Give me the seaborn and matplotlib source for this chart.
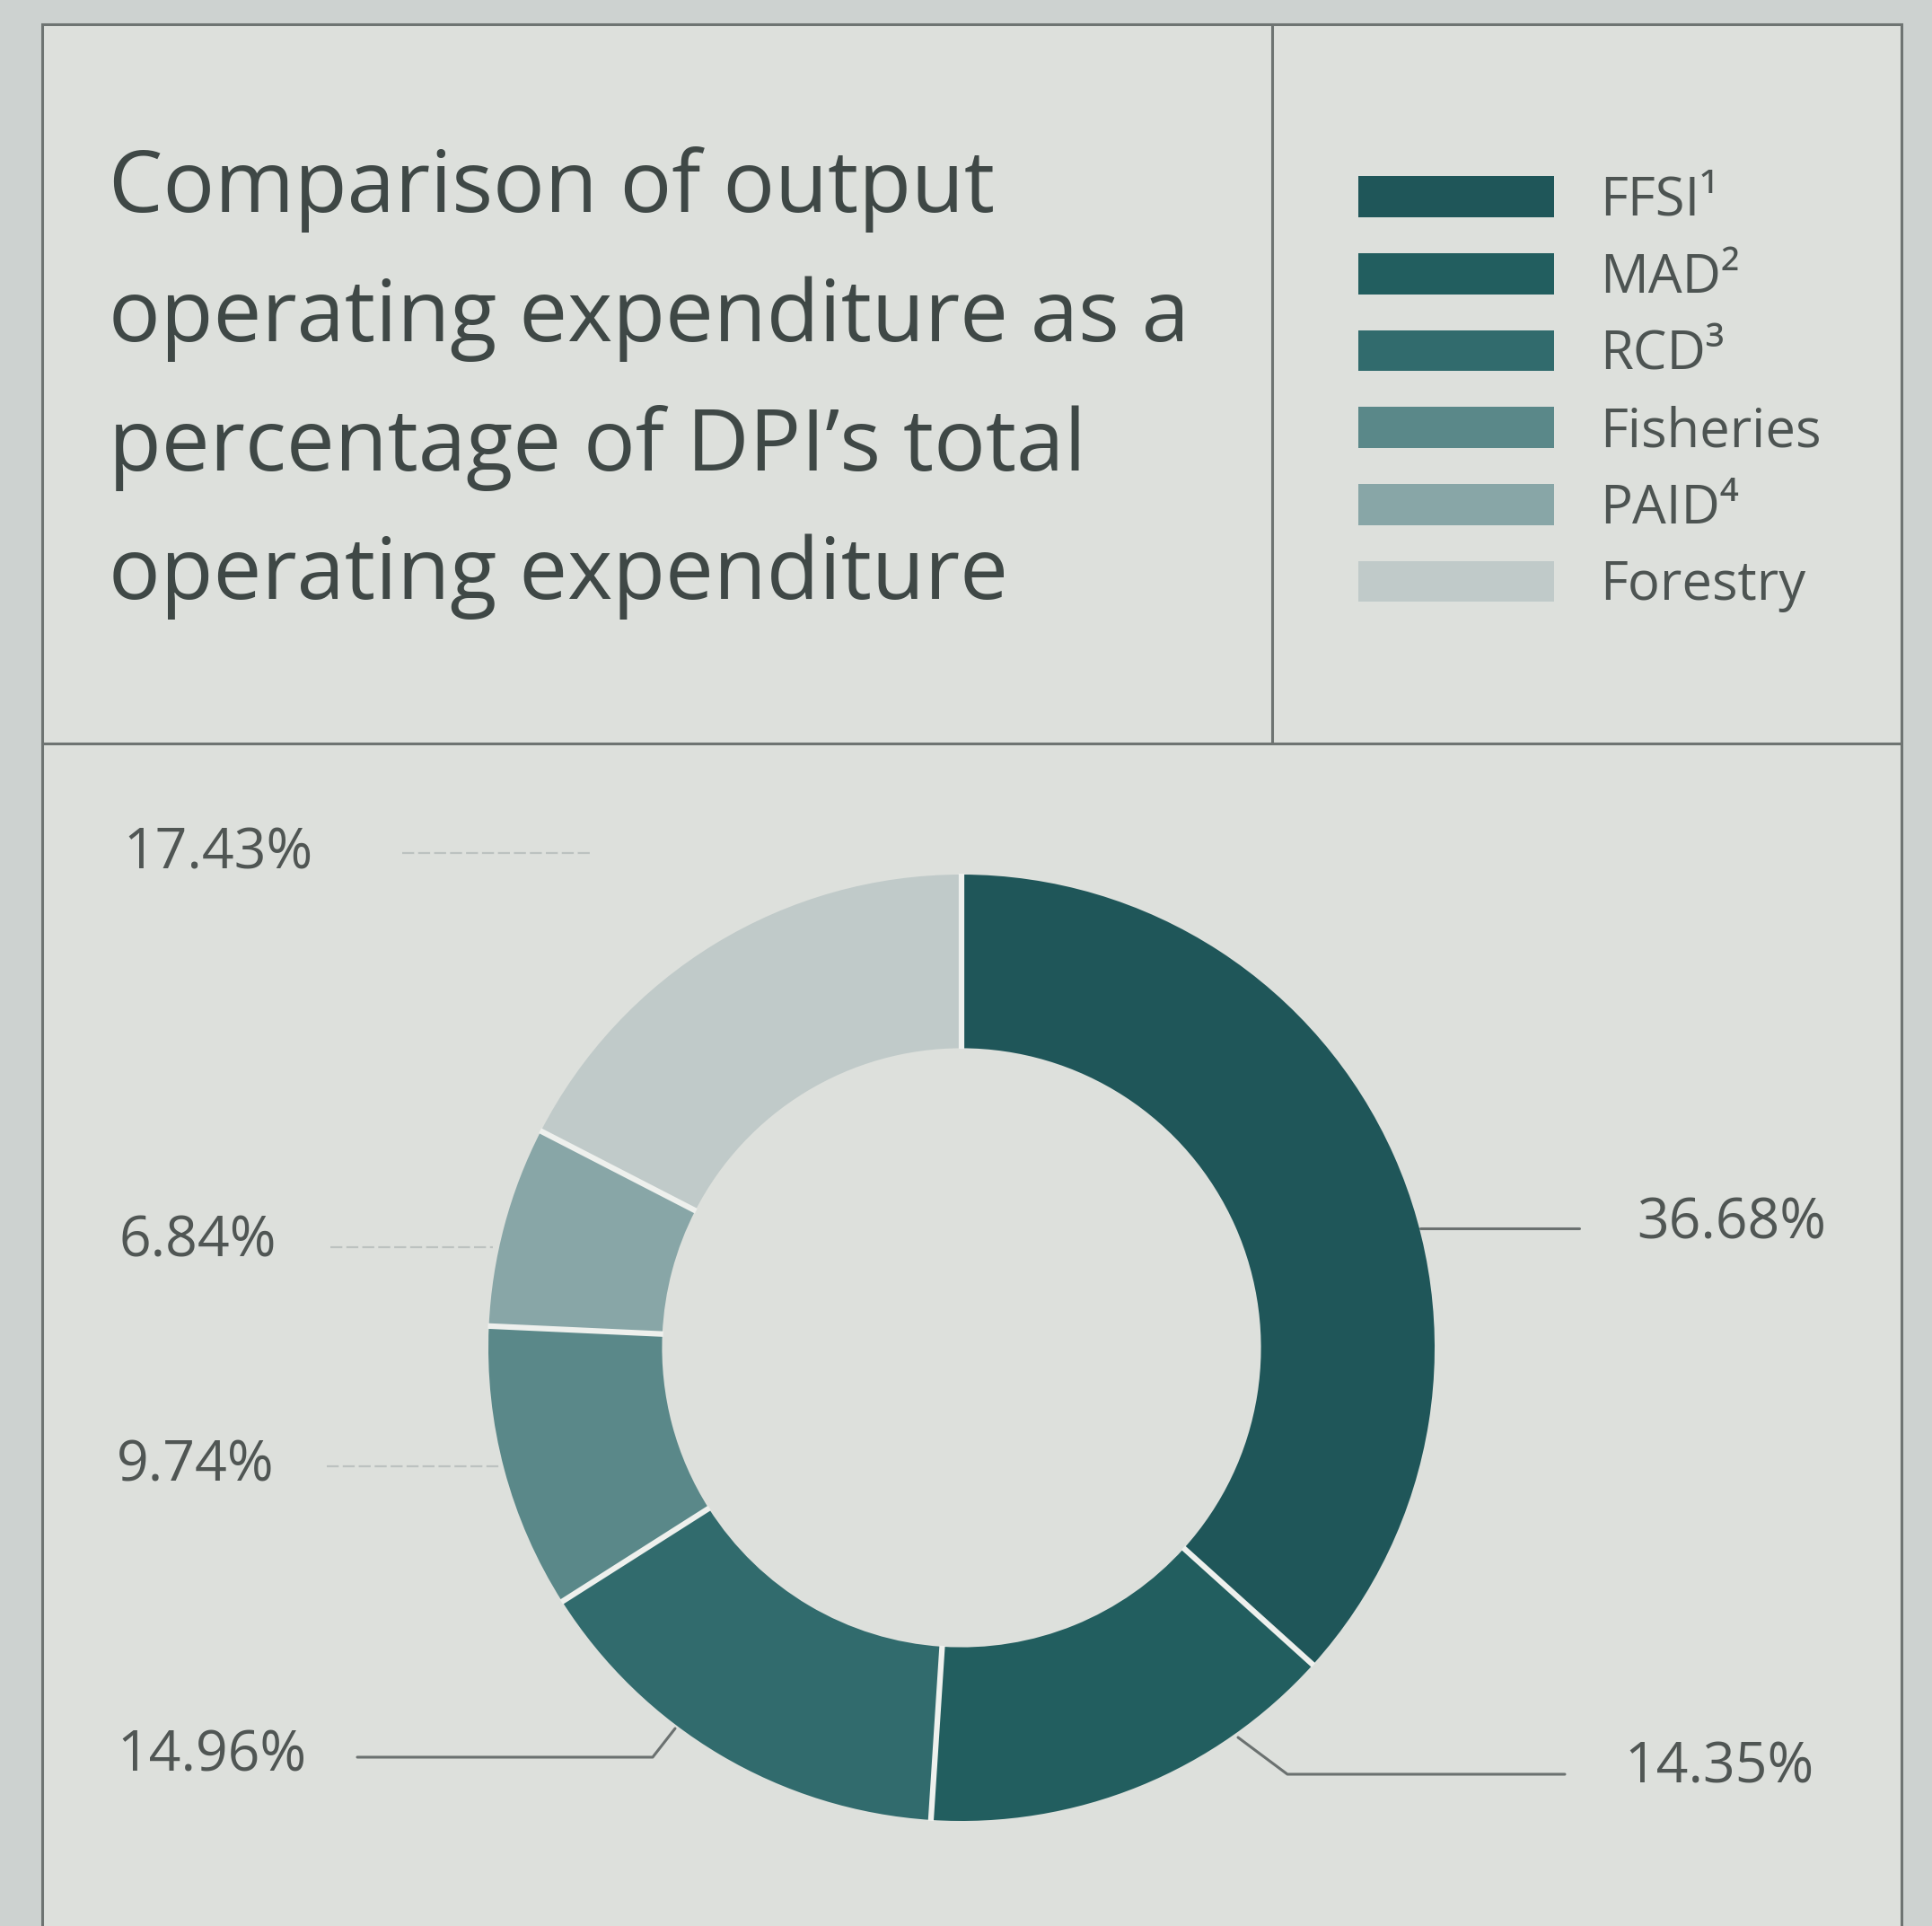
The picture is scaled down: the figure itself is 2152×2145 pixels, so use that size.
import matplotlib
matplotlib.use("Agg")
import numpy as np
import matplotlib.pyplot as plt
from matplotlib.patches import Patch, Rectangle
import seaborn as sns

# ---- data -------------------------------------------------------------
categories = ["FFSI\u00b9", "MAD\u00b2", "RCD\u00b3", "Fisheries", "PAID\u2074", "Forestry"]
shares = [36.68, 14.35, 14.96, 9.74, 6.84, 17.43]
title_lines = [
    "Comparison of output",
    "operating expenditure as a",
    "percentage of DPI\u2019s total",
    "operating expenditure",
]
palette_hex = ["#1f5659", "#225e5f", "#316b6d", "#5a8889", "#88a6a7", "#c0cac9"]

# ---- style ------------------------------------------------------------
sns.set_theme(style="white")
plt.rcParams["font.family"] = ["Open Sans", "DejaVu Sans"]
colors = sns.color_palette(palette_hex)

W, H = 2152, 2145
fig = plt.figure(figsize=(W / 100, H / 100), dpi=100)
fig.patch.set_facecolor("#cdd2d0")
ax = fig.add_axes([0, 0, 1, 1])


def Y(y):
    """Convert a top-down pixel row to the axes' upward y coordinate."""
    return H - y


# panel background and frame
panel_l, panel_r, panel_t = 47, 2118, 27
divider_y, divider_x = 828, 1417
frame_col = "#6e7472"
panel_bg = "#dde0dc"
ax.add_patch(Rectangle((panel_l, 0), panel_r - panel_l, Y(panel_t),
                       facecolor=panel_bg, edgecolor="none", zorder=0))
ax.plot([panel_l, panel_l, panel_r, panel_r], [0, Y(panel_t), Y(panel_t), 0],
        color=frame_col, lw=2.2, solid_joinstyle="miter", zorder=1)
ax.plot([panel_l, panel_r], [Y(divider_y), Y(divider_y)], color=frame_col, lw=2.2, zorder=1)
ax.plot([divider_x, divider_x], [Y(panel_t), Y(divider_y)], color=frame_col, lw=2.2, zorder=1)

# title
for line, base in zip(title_lines, [236, 380, 524, 667]):
    ax.text(121, Y(base), line, fontsize=69, color="#3f4846",
            ha="left", va="baseline", zorder=3)

# donut
center = (1071, Y(1501))
radius = 527
ring = radius * 0.367
start_angle = 90
wedges, _ = ax.pie(shares, colors=colors, startangle=start_angle, counterclock=False,
                   center=center, radius=radius,
                   wedgeprops=dict(width=ring, edgecolor="none", linewidth=0))
for w in wedges:
    w.set_zorder(2)

# white separators at the wedge boundaries
bounds = np.cumsum([0] + shares) / np.sum(shares) * 360.0
for b in bounds[:-1]:
    theta = np.deg2rad(start_angle - b)
    r0, r1 = radius - ring - 1, radius + 1
    ax.plot([center[0] + r0 * np.cos(theta), center[0] + r1 * np.cos(theta)],
            [center[1] + r0 * np.sin(theta), center[1] + r1 * np.sin(theta)],
            color="#eef0ed", lw=4.5, solid_capstyle="butt", zorder=2.5)

ax.set_xlim(0, W)
ax.set_ylim(0, H)
ax.set_aspect("equal")
ax.axis("off")

# value labels with leader lines
label_pos = {
    "FFSI\u00b9": (1823, 1363),
    "MAD\u00b2": (1809, 1969),
    "RCD\u00b3": (130, 1956),
    "Fisheries": (130, 1633),
    "PAID\u2074": (133, 1383),
    "Forestry": (137, 951),
}
leaders = {
    "FFSI\u00b9": ([(1582, 1368), (1759, 1368)], "dark"),
    "MAD\u00b2": ([(1379, 1935), (1434, 1976), (1743, 1976)], "dark"),
    "RCD\u00b3": ([(398, 1957), (727, 1957), (752, 1925)], "dark"),
    "Fisheries": ([(364, 1633), (556, 1633)], "faint"),
    "PAID\u2074": ([(368, 1389), (549, 1389)], "faint"),
    "Forestry": ([(448, 950), (660, 950)], "faint"),
}
for cat, val in zip(categories, shares):
    x, y = label_pos[cat]
    ax.text(x, Y(y), f"{val:.2f}%", fontsize=45, color="#505654",
            ha="left", va="center", zorder=3)
    pts, kind = leaders[cat]
    xs = [p[0] for p in pts]
    ys = [Y(p[1]) for p in pts]
    if kind == "dark":
        ax.plot(xs, ys, color="#6b7170", lw=2.2, zorder=1.5)
    else:
        ax.plot(xs, ys, color="#bcc2c0", lw=1.6, ls=(0, (6, 2)), zorder=1.5)

# legend
handles = [Patch(facecolor=c, edgecolor="none") for c in colors]
ax.legend(handles, categories, loc="upper left",
          bbox_to_anchor=(1513 / W, Y(194) / H), bbox_transform=fig.transFigure,
          fontsize=43, handlelength=3.65, handleheight=0.8, handletextpad=0.85,
          labelspacing=0.43, borderpad=0, borderaxespad=0, frameon=False,
          labelcolor="#4d5452")

fig.savefig("out.png", dpi=100, facecolor=fig.get_facecolor())
